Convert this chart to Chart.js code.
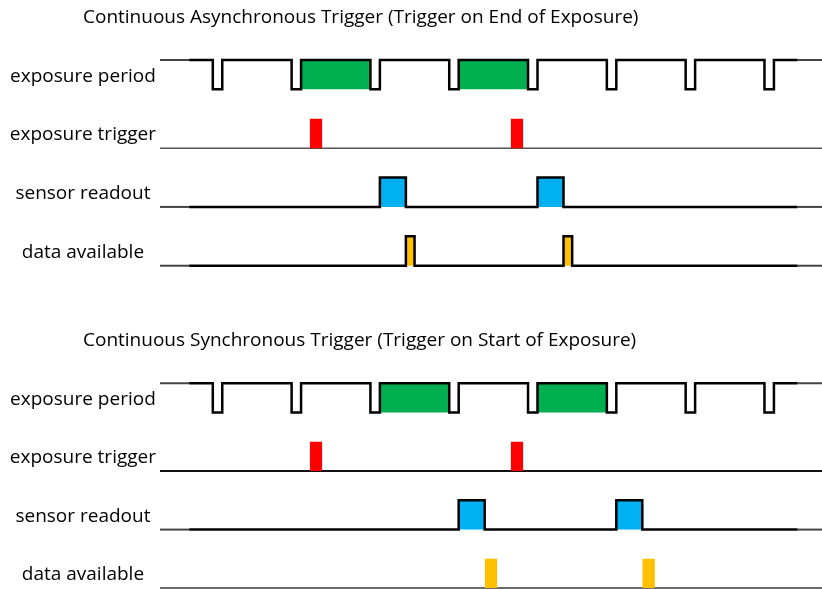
<!DOCTYPE html>
<html>
<head>
<meta charset="utf-8">
<script src="https://cdn.jsdelivr.net/npm/chart.js@4/dist/chart.umd.min.js"></script>
<style>
  html, body { margin: 0; padding: 0; background: #fff; overflow: hidden; }
  .wrap { position: absolute; left: 0; width: 822px; }
  #w1 { top: 0; height: 322px; }
  #w2 { top: 322px; height: 267px; }
</style>
</head>
<body>
<div class="wrap" id="w1"><canvas id="c1"></canvas></div>
<div class="wrap" id="w2"><canvas id="c2"></canvas></div>
<script>
// ---- data (time units; one frame = 10 units) ----
const rowLabels = ['exposure period', 'exposure trigger', 'sensor readout', 'data available'];
const rowBases  = [6, 4, 2, 0];
const frameStarts = [0, 10, 20, 30, 40, 50, 60, 70];   // start of each inter-frame gap
const gapWidth = 1.2;
const signalStart = -3.0;
const signalEnd = 74.2;
const timeMin = -6.7;
const timeMax = 77.3;

const asyncTitle = 'Continuous Asynchronous Trigger (Trigger on End of Exposure)';
const asyncExposed  = [[11.2, 20.0], [31.2, 40.0]];
const asyncTriggers = [[12.3, 13.9], [37.8, 39.4]];
const asyncReadout  = [[21.2, 24.5], [41.2, 44.5]];
const asyncData     = [[24.5, 25.6], [44.5, 45.6]];

const syncTitle = 'Continuous Synchronous Trigger (Trigger on Start of Exposure)';
const syncExposed  = [[21.2, 30.0], [41.2, 50.0]];
const syncTriggers = [[12.3, 13.9], [37.8, 39.4]];
const syncReadout  = [[31.2, 34.5], [51.2, 54.5]];
const syncData     = [[34.5, 36.1], [54.5, 56.1]];

// ---- styles ----
const FONT = '"Open Sans", Lato, sans-serif';
const GREEN = '#00B050', RED = '#FF0000', BLUE = '#00B0F0', ORANGE = '#FFC000';

const titlePlugin = {
  id: 'cornerTitle',
  afterDraw(chart, args, opts) {
    const ctx = chart.ctx;
    ctx.save();
    ctx.font = opts.size + 'px ' + FONT;
    ctx.fillStyle = '#000';
    ctx.textBaseline = 'alphabetic';
    ctx.textAlign = 'left';
    ctx.fillText(opts.text, opts.x, opts.y);
    ctx.restore();
  }
};

function lineDs(points, color, width, order) {
  return { type: 'line', data: points, borderColor: color, borderWidth: width,
    pointRadius: 0, fill: false, order: order, tension: 0,
    borderJoinStyle: 'miter', borderCapStyle: 'butt', clip: false };
}
function rectDs(span, base, color, order) {
  return { type: 'line',
    data: [{x: span[0], y: base}, {x: span[0], y: base + 1}, {x: span[1], y: base + 1}, {x: span[1], y: base}],
    borderWidth: 0, borderColor: 'rgba(0,0,0,0)', backgroundColor: color,
    pointRadius: 0, fill: {value: base}, order: order, tension: 0, clip: false };
}
function exposureWave(base) {
  const pts = [{x: signalStart, y: base + 1}];
  frameStarts.forEach(d => {
    pts.push({x: d, y: base + 1}, {x: d, y: base}, {x: d + gapWidth, y: base}, {x: d + gapWidth, y: base + 1});
  });
  pts.push({x: signalEnd, y: base + 1});
  return pts;
}
function pulseWave(base, spans) {
  const pts = [{x: signalStart, y: base}];
  spans.forEach(s => {
    pts.push({x: s[0], y: base}, {x: s[0], y: base + 1}, {x: s[1], y: base + 1}, {x: s[1], y: base});
  });
  pts.push({x: signalEnd, y: base});
  return pts;
}
function stubs(level) {
  return [[{x: timeMin, y: level}, {x: signalStart, y: level}],
          [{x: signalEnd, y: level}, {x: timeMax, y: level}]];
}

function buildDatasets(cfg) {
  const ds = [];
  const [pB, tB, rB, dB] = rowBases;
  // exposure period
  cfg.exposed.forEach(s => ds.push(rectDs(s, pB, GREEN, 3)));
  ds.push(lineDs(exposureWave(pB), '#000', 2.5, 1));
  stubs(pB + 1).forEach(p => ds.push(lineDs(p, '#444', 2, 1)));
  // exposure trigger
  ds.push(lineDs([{x: timeMin, y: tB}, {x: timeMax, y: tB}], cfg.trigLine, cfg.trigWidth, 4));
  cfg.triggers.forEach(s => ds.push(rectDs(s, tB, RED, 1)));
  // sensor readout
  cfg.readout.forEach(s => ds.push(rectDs(s, rB, BLUE, 3)));
  ds.push(lineDs(pulseWave(rB, cfg.readout), '#000', 2.5, 1));
  stubs(rB).forEach(p => ds.push(lineDs(p, '#444', 2, 1)));
  // data available
  if (cfg.dataOutlined) {
    cfg.data.forEach(s => ds.push(rectDs(s, dB, ORANGE, 3)));
    ds.push(lineDs(pulseWave(dB, cfg.data), '#000', 2.5, 1));
    stubs(dB).forEach(p => ds.push(lineDs(p, '#444', 2, 1)));
  } else {
    ds.push(lineDs([{x: timeMin, y: dB}, {x: timeMax, y: dB}], '#6a6a6a', 2, 4));
    cfg.data.forEach(s => ds.push(rectDs(s, dB, ORANGE, 1)));
  }
  return ds;
}

function makeChart(canvasId, cfg) {
  return new Chart(document.getElementById(canvasId), {
    type: 'line',
    data: { datasets: buildDatasets(cfg) },
    plugins: [titlePlugin],
    options: {
      responsive: true,
      maintainAspectRatio: false,
      animation: false,
      events: [],
      layout: { padding: { top: cfg.padTop, bottom: cfg.padBottom, left: 0, right: 0 } },
      plugins: {
        legend: { display: false },
        tooltip: { enabled: false },
        cornerTitle: { text: cfg.title, x: 83, y: cfg.titleY, size: 19 }
      },
      scales: {
        x: { type: 'linear', display: false, min: timeMin, max: timeMax },
        y: {
          type: 'linear', min: cfg.yMin, max: cfg.yMax,
          grid: { display: false, drawTicks: false },
          border: { display: false },
          afterBuildTicks: (scale) => { scale.ticks = rowBases.map(b => ({ value: b + 0.5 })); },
          afterFit: (scale) => { scale.width = 160; scale.paddingTop = 0; scale.paddingBottom = 0; },
          ticks: {
            autoSkip: false,
            crossAlign: 'center',
            padding: 4,
            labelOffset: 1.5,
            color: '#000',
            font: { family: FONT, size: 19 },
            callback: (v) => rowLabels[rowBases.indexOf(v - 0.5)]
          }
        }
      }
    }
  });
}

makeChart('c1', {
  title: asyncTitle, titleY: 23, exposed: asyncExposed, triggers: asyncTriggers,
  readout: asyncReadout, data: asyncData, dataOutlined: true,
  trigLine: '#555', trigWidth: 1.5,
  yMin: -0.2, yMax: 7.2, padTop: 54.1, padBottom: 50.4
});
makeChart('c2', {
  title: syncTitle, titleY: 24, exposed: syncExposed, triggers: syncTriggers,
  readout: syncReadout, data: syncData, dataOutlined: false,
  trigLine: '#111', trigWidth: 2,
  yMin: -0.03, yMax: 7.2, padTop: 55.4, padBottom: 0
});
</script>
</body>
</html>
